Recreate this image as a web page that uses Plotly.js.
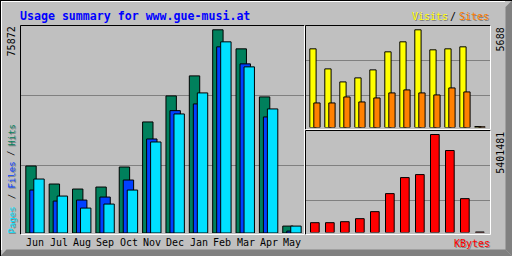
<!DOCTYPE html>
<html>
<head>
<meta charset="utf-8">
<script src="https://cdn.plot.ly/plotly-3.0.1.min.js"></script>
<style>html,body{margin:0;padding:0;background:#C0C0C0;}#chart{width:512px;height:256px;}</style>
</head>
<body>
<div id="chart"></div>
<script>
// ---- data ----
const months = ['Jun','Jul','Aug','Sep','Oct','Nov','Dec','Jan','Feb','Mar','Apr','May'];
const hits   = [25014,18284,16414,17162,24640,41466,51187,58665,75872,68760,50813,2580];
const files  = [16040,11927,12301,13423,19779,35109,45691,48196,69508,63152,43335,710];
const pages  = [20153,13797,9310,10806,16040,33988,44457,52309,71377,62031,46326,2580];
const visits = [4580,3413,2654,2888,3354,4405,4988,5688,4521,4580,4696,58];
const sites  = [1429,1429,1779,1488,1721,2013,2188,2013,1896,2304,2071,40];
const kbytes = [541000,541000,596000,762000,1149000,2143000,3027000,3192000,5401481,4518000,1867000,28000];
const maxLabels = ['75872','5688','5401481'];
const title = 'Usage summary for www.gue-musi.at';

// ---- geometry helpers ----
const W = 512, H = 256;
const PX = x => x / W;
const PY = y => 1 - y / H;
const idx = months.map((m, i) => i);

const C = {bg:'#C0C0C0', grid:'#808080', hits:'#00805C', files:'#0040FF', pages:'#00E0FF',
           visits:'#FFFF00', sites:'#FF8000', kbytes:'#FF0000', shadow:'#808080'};

// main panel
const mUnit = 23.36, mLeft = 25.8, mDom = [21, 304], mBase = 233, mTop = 26, mRefTop = 29.8;
const mMax = Math.max(...hits);
const mR = mMax * (mBase - mTop) / (mBase - mRefTop);
const mGrid = [95.5, 165.5].map(p => mMax * (mBase - p) / (mBase - mRefTop));
// right panels
const rUnit = 15, rLeft = 309.8, rDom = [306, 490];
const vBase = 127.5, vTop = 26, vRefTop = 29.8;
const vMax = Math.max(...visits);
const vR = vMax * (vBase - vTop) / (vBase - vRefTop);
const vGrid = [60.5, 95.5].map(p => vMax * (vBase - p) / (vBase - vRefTop));
const kBase = 232.5, kTop = 131, kRefTop = 134.5;
const kMax = Math.max(...kbytes);
const kR = kMax * (kBase - kTop) / (kBase - kRefTop);
const kGrid = [165.5, 200.5].map(p => kMax * (kBase - p) / (kBase - kRefTop));

const line = {color:'#000', width:1};
function bar(y, color, xa, ya, off, w) {
  return {type:'bar', x: idx, y: y, xaxis: xa, yaxis: ya, offset: off, width: w,
          marker:{color: color, line: line}, hoverinfo:'skip', showlegend:false};
}
const mw = 10.4 / mUnit;
const traces = [
  bar(hits,  C.hits,  'x', 'y', 0, mw),
  bar(files, C.files, 'x', 'y', 4 / mUnit, mw),
  bar(pages, C.pages, 'x', 'y', 8 / mUnit, mw),
  bar(visits, C.visits, 'x2', 'y2', 0, 6.3 / rUnit),
  bar(sites,  C.sites,  'x2', 'y2', 4 / rUnit, 6.3 / rUnit),
  bar(kbytes, C.kbytes, 'x3', 'y3', 0.7 / rUnit, 8.7 / rUnit)
];

function xax(dom, left, unit, anchor) {
  return {domain:[PX(dom[0]), PX(dom[1])], range:[(dom[0]-left)/unit, (dom[1]-left)/unit],
          showgrid:false, zeroline:false, showline:false, showticklabels:false, ticks:'', anchor: anchor, fixedrange:true};
}
function yax(base, top, R, grid, anchor) {
  return {domain:[PY(base), PY(top)], range:[0, R], tickvals: grid, showgrid:true, gridcolor:C.grid, gridwidth:1,
          zeroline:false, showline:false, showticklabels:false, ticks:'', anchor: anchor, fixedrange:true};
}

// frames
function seg(x0, y0, x1, y1, color, w) {
  return {type:'line', xref:'paper', yref:'paper', x0:PX(x0), y0:PY(y0), x1:PX(x1), y1:PY(y1),
          line:{color: color, width: w || 1}, layer:'above'};
}
function poly(pts, color) {
  const d = 'M' + pts.map(p => PX(p[0]) + ',' + PY(p[1])).join('L') + 'Z';
  return {type:'path', xref:'paper', yref:'paper', path:d, fillcolor:color, line:{width:0}, layer:'above'};
}
function panel(x0, y0, x1, y1) {
  return [seg(x0, y0, x1, y0, '#000'), seg(x0, y0, x0, y1, '#000'),
          seg(x1, y0, x1, y1, '#FFF'), seg(x0, y1, x1, y1, '#FFF')];
}
const shapes = [
  poly([[505.5,7],[512,0.5],[512,256],[505.5,249.5]], C.shadow),
  poly([[0.5,256],[6.5,249.5],[505.5,249.5],[512,256]], C.shadow),
  seg(0, 0.5, 512, 0.5, '#000'), seg(0.5, 0, 0.5, 256, '#000'),
  seg(1, 1.5, 505, 1.5, '#FFF'), seg(1.5, 1, 1.5, 250, '#FFF'),
  ...panel(20.5, 25.5, 304.5, 234.5),
  ...panel(305.5, 25.5, 490.5, 129.5),
  ...panel(305.5, 130.5, 490.5, 234.5)
];

const mono = 'DejaVu Sans Mono, Liberation Mono, monospace';
function ann(text, x, y, color, size, opts) {
  return Object.assign({text: text, xref:'paper', yref:'paper', x: PX(x), y: PY(y), showarrow:false,
          xanchor:'center', yanchor:'middle', borderpad:0, font:{family: mono, size: size, color: color}}, opts || {});
}
function shadowed(text, x, y, color, size, opts) {
  return [ann(text, x + 1, y + 1, C.shadow, size, opts), ann(text, x, y, color, size, opts)];
}
const annotations = [
  ann(title, 19, 15.5, '#0000FF', 11.6, {xanchor:'left', font:{family:mono, size:11.6, color:'#0000FF', weight:'bold'}}),
  ann(maxLabels[0], 11.7, 41.7, '#000', 10, {textangle:-90}),
  ann(maxLabels[1], 500.2, 39.2, '#000', 10, {textangle:-90}),
  ann(maxLabels[2], 500.3, 152.5, '#000', 10, {textangle:-90}),
  ...shadowed('Pages', 11.7, 219.7, C.pages, 9, {textangle:-90}),
  ann('/', 11.7, 196.5, '#000', 9, {textangle:-90}),
  ...shadowed('Files', 11.7, 174.8, C.files, 9, {textangle:-90}),
  ann('/', 11.7, 153.3, '#000', 9, {textangle:-90}),
  ...shadowed('Hits', 11.7, 135, C.hits, 9, {textangle:-90}),
  ...shadowed('Visits', 429.8, 16.7, C.visits, 10),
  ann('/', 452.7, 16.7, '#000', 10),
  ...shadowed('Sites', 474.3, 16.7, C.sites, 10),
  ...shadowed('KBytes', 471.7, 243, C.kbytes, 10)
];
months.forEach((m, i) => {
  annotations.push({text: m, xref:'x', yref:'paper', x: i + 9.5 / mUnit, y: PY(242.5), showarrow:false,
    xanchor:'center', yanchor:'middle', borderpad:0, font:{family: mono, size: 10, color:'#000'}});
});

const layout = {
  width: W, height: H, margin:{l:0, r:0, t:0, b:0, pad:0}, autosize:false,
  paper_bgcolor: C.bg, plot_bgcolor: C.bg, barmode:'overlay', showlegend:false,
  xaxis: xax(mDom, mLeft, mUnit, 'y'),
  yaxis: yax(mBase, mTop, mR, mGrid, 'x'),
  xaxis2: xax(rDom, rLeft, rUnit, 'y2'),
  yaxis2: yax(vBase, vTop, vR, vGrid, 'x2'),
  xaxis3: xax(rDom, rLeft, rUnit, 'y3'),
  yaxis3: yax(kBase, kTop, kR, kGrid, 'x3'),
  shapes: shapes, annotations: annotations
};
Plotly.newPlot('chart', traces, layout, {staticPlot:true, displayModeBar:false});
</script>
</body>
</html>
